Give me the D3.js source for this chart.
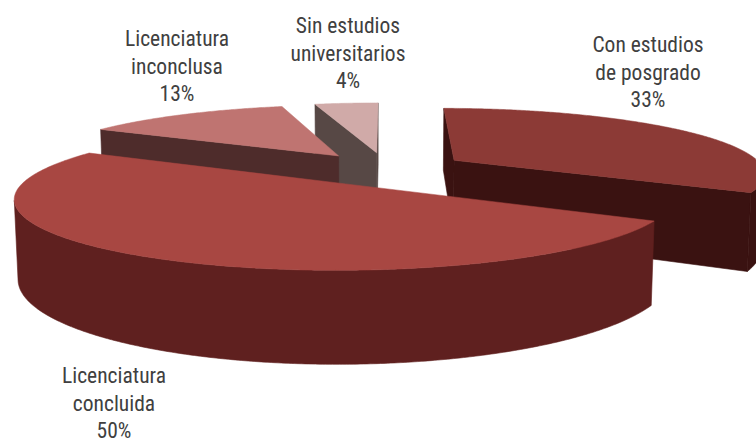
<!DOCTYPE html>
<html>
<head>
<meta charset="utf-8">
<script src="https://cdn.jsdelivr.net/npm/d3@7"></script>
<style>
  html, body { margin: 0; padding: 0; background: #ffffff; }
  svg { display: block; }
  .lbl { font-family: "Liberation Sans Narrow", "Roboto Condensed", "DejaVu Sans Condensed", "Open Sans", sans-serif; font-size: 21.5px; fill: #404040; }
</style>
</head>
<body>
<svg id="chart" width="756" height="442"></svg>
<script>
// Education level of the group (share in %), clockwise from 12 o'clock
const categories = ["Con estudios de posgrado", "Licenciatura concluida", "Licenciatura inconclusa", "Sin estudios universitarios"];
const values = [33, 50, 13, 4];
const labelLines = [["Con estudios", "de posgrado"], ["Licenciatura", "concluida"], ["Licenciatura", "inconclusa"], ["Sin estudios", "universitarios"]];

// Slice colours: top face and side faces
const topColors = ["#8c3a36", "#a84742", "#bf7471", "#d0aaa8"];
const sideColors = ["#3a1211", "#5f201f", "#4e2c2b", "#574845"];

// Label anchors (centre x, first baseline y)
const labelPos = [[648, 52], [114, 383], [177, 46], [348, 33]];

const svg = d3.select("#chart");

// 3D pie geometry (unit radius) and perspective camera
const thickness = 0.2463, explode = 0.2598;
const alpha = 11.948 * Math.PI / 180;
const cosA = Math.cos(alpha), sinA = Math.sin(alpha);
const cam = { cx: 386.3, cy: 168.65, f: 1664.9, D: 5.3635 };
const camPos = [0, cam.D * sinA, -cam.D * cosA];
const radius = d3.scaleLinear().domain([0, 1]).range([0, 1]);

function project([X, Y, Z]) {
  const depth = cam.D + Z * cosA - Y * sinA;
  return [cam.cx + cam.f * X / depth, cam.cy - cam.f * (Y * cosA + Z * sinA) / depth];
}
const dir = a => [Math.sin(a), Math.cos(a)];
const facing = (n, p) => n[0] * (camPos[0] - p[0]) + n[1] * (camPos[1] - p[1]) + n[2] * (camPos[2] - p[2]) > 0;

const pie = d3.pie().sort(null).value(d => d)(values);
const line = d3.line().curve(d3.curveLinear);

const slices = pie.map((p, i) => {
  const mid = (p.startAngle + p.endAngle) / 2;
  const [ex, ez] = dir(mid);
  const vx = ex * explode, vz = ez * explode;
  const r = radius(1);
  const pt = (a, y) => { const [s, c] = dir(a); return [vx + s * r, y, vz + c * r]; };
  // centroid depth for painter's ordering
  const cz = vz + ez * r * 0.5;
  return { i, p, vx, vz, pt, cz };
});

// draw farthest slices first
slices.sort((a, b) => b.cz - a.cz);

const g = svg.append("g");
slices.forEach(sl => {
  const { i, p, vx, vz, pt } = sl;
  const a0 = p.startAngle, a1 = p.endAngle;
  const top = 0, bot = -thickness;
  const V0 = [vx, top, vz], V1 = [vx, bot, vz];
  const faces = [];

  // radial face at start angle (outward normal points to decreasing angle)
  {
    const [nx, nz] = dir(a0 - Math.PI / 2);
    const P = pt(a0, top);
    if (facing([nx, 0, nz], P)) faces.push([V0, P, pt(a0, bot), V1]);
  }
  // radial face at end angle
  {
    const [nx, nz] = dir(a1 + Math.PI / 2);
    const P = pt(a1, top);
    if (facing([nx, 0, nz], P)) faces.push([V0, P, pt(a1, bot), V1]);
  }
  // curved outer wall: visible runs only
  const steps = Math.max(8, Math.ceil((a1 - a0) / (Math.PI / 360)));
  let run = [];
  const flush = () => {
    if (run.length > 1) {
      const poly = run.map(a => pt(a, top)).concat(run.slice().reverse().map(a => pt(a, bot)));
      faces.push(poly);
    }
    run = [];
  };
  for (let k = 0; k <= steps; k++) {
    const a = a0 + (a1 - a0) * k / steps;
    const [nx, nz] = dir(a);
    if (facing([nx, 0, nz], pt(a, top))) run.push(a); else flush();
  }
  flush();

  faces.forEach(f => {
    g.append("path")
      .attr("d", line(f.map(project)) + "Z")
      .attr("fill", sideColors[i])
      .attr("stroke", sideColors[i])
      .attr("stroke-width", 0.6)
      .attr("stroke-linejoin", "round");
  });

  // top face
  const topPts = [V0];
  for (let k = 0; k <= steps; k++) topPts.push(pt(a0 + (a1 - a0) * k / steps, top));
  g.append("path")
    .attr("d", line(topPts.map(project)) + "Z")
    .attr("fill", topColors[i])
    .attr("stroke", topColors[i])
    .attr("stroke-width", 0.5)
    .attr("stroke-linejoin", "round");
});

// category labels with percentage
const lineGap = 27.5;
const labels = svg.append("g");
categories.forEach((c, i) => {
  const lines = labelLines[i].concat([values[i] + "%"]);
  const t = labels.append("text")
    .attr("class", "lbl")
    .attr("text-anchor", "middle")
    .attr("x", labelPos[i][0])
    .attr("y", labelPos[i][1]);
  lines.forEach((s, k) => {
    t.append("tspan").attr("x", labelPos[i][0]).attr("y", labelPos[i][1] + k * lineGap).text(s);
  });
});
</script>
</body>
</html>
